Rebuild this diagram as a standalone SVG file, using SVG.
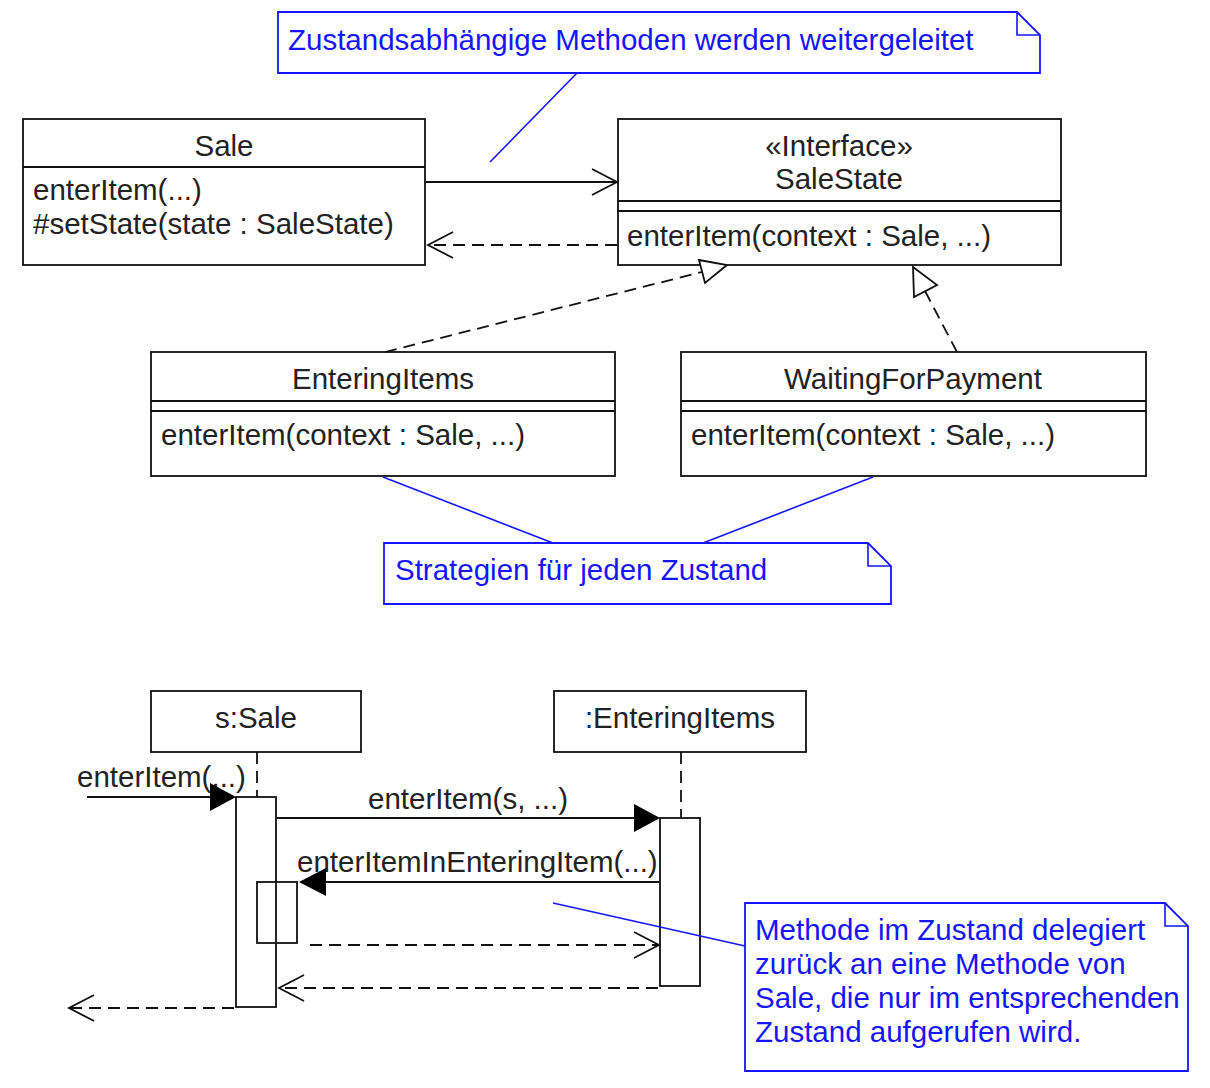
<svg xmlns="http://www.w3.org/2000/svg" width="1210" height="1088" viewBox="0 0 1210 1088">
<style>
text{font-family:"Liberation Sans",Arial,sans-serif;font-size:29.5px;fill:#222}
.c{text-anchor:middle}
.n text{fill:#1515ff}
.box{fill:#fff;stroke:#111;stroke-width:1.8}
.note{fill:#fff;stroke:#1515ff;stroke-width:1.8}
.nl{stroke:#1515ff;stroke-width:1.6;fill:none}
.ln{stroke:#111;stroke-width:1.8;fill:none}
.d{stroke-dasharray:12,7}
.open{fill:none;stroke:#111;stroke-width:1.8}
.fill{fill:#000;stroke:none}
.tri{fill:#fff;stroke:#111;stroke-width:1.8}
</style>
<rect width="1210" height="1088" fill="#fff"/>

<g id="note1" class="n">
  <path class="note" d="M278,12 H1017 L1040,35 V73 H278 Z"/>
  <path class="nl" d="M1017,12 V35 H1040"/>
  <text x="288" y="50">Zustandsabhängige Methoden werden weitergeleitet</text>
</g>

<g id="Sale">
  <rect class="box" x="23" y="119" width="402" height="146"/>
  <line class="ln" x1="23" y1="167" x2="425" y2="167"/>
  <text class="c" x="224" y="156">Sale</text>
  <text x="33" y="200">enterItem(...)</text>
  <text x="33" y="234">#setState(state : SaleState)</text>
</g>

<g id="SaleState">
  <rect class="box" x="618" y="119" width="443" height="146"/>
  <line class="ln" x1="618" y1="201" x2="1061" y2="201"/>
  <line class="ln" x1="618" y1="211" x2="1061" y2="211"/>
  <text class="c" x="839" y="156">«Interface»</text>
  <text class="c" x="839" y="189">SaleState</text>
  <text x="627" y="246">enterItem(context : Sale, ...)</text>
</g>

<g id="EnteringItems">
  <rect class="box" x="151" y="352" width="464" height="124"/>
  <line class="ln" x1="151" y1="401" x2="615" y2="401"/>
  <line class="ln" x1="151" y1="411" x2="615" y2="411"/>
  <text class="c" x="383" y="389">EnteringItems</text>
  <text x="161" y="445">enterItem(context : Sale, ...)</text>
</g>

<g id="WaitingForPayment">
  <rect class="box" x="681" y="352" width="465" height="124"/>
  <line class="ln" x1="681" y1="401" x2="1146" y2="401"/>
  <line class="ln" x1="681" y1="411" x2="1146" y2="411"/>
  <text class="c" x="913" y="389">WaitingForPayment</text>
  <text x="691" y="445">enterItem(context : Sale, ...)</text>
</g>

<g id="note2" class="n">
  <path class="note" d="M384,543 H868 L891,566 V604 H384 Z"/>
  <path class="nl" d="M868,543 V566 H891"/>
  <text x="395" y="580">Strategien für jeden Zustand</text>
</g>

<g id="sSale">
  <rect class="box" x="151" y="691" width="210" height="61"/>
  <text class="c" x="256" y="728">s:Sale</text>
  <rect class="box" x="236" y="797" width="40" height="210"/>
  <rect class="box" x="257" y="882" width="40" height="61" fill-opacity="0"/>
</g>

<g id="enteringItemsObj">
  <rect class="box" x="554" y="691" width="252" height="61"/>
  <text class="c" x="680" y="728">:EnteringItems</text>
  <rect class="box" x="660" y="818" width="40" height="168"/>
</g>

<g id="note3" class="n">
  <path class="note" d="M745,903 H1165 L1188,926 V1071 H745 Z"/>
  <path class="nl" d="M1165,903 V926 H1188"/>
  <text x="755" y="940">Methode im Zustand delegiert</text>
  <text x="755" y="974">zurück an eine Methode von</text>
  <text x="755" y="1008">Sale, die nur im entsprechenden</text>
  <text x="755" y="1042">Zustand aufgerufen wird.</text>
</g>

<g id="labels">
  <text x="77" y="787">enterItem(...)</text>
  <text class="c" x="468" y="809">enterItem(s, ...)</text>
  <text x="297" y="872">enterItemInEnteringItem(...)</text>
</g>

<g id="connectors">
  <line class="nl" x1="577" y1="73" x2="490" y2="162"/>
  <line class="nl" x1="383" y1="477" x2="553" y2="543"/>
  <line class="nl" x1="873" y1="477" x2="703" y2="543"/>
  <line class="nl" x1="553" y1="903" x2="745" y2="946"/>
  <!-- Sale -> SaleState -->
  <line class="ln" x1="425" y1="182" x2="617" y2="182"/>
  <polyline class="open" points="592,169 617,182 592,195"/>
  <!-- SaleState -> Sale dependency -->
  <line class="ln d" x1="617" y1="245" x2="428" y2="245"/>
  <polyline class="open" points="453,232 428,245 453,258"/>
  <!-- realizations -->
  <line class="ln d" x1="385" y1="352" x2="702" y2="272"/>
  <polygon class="tri" points="727,265 705,283 699,260"/>
  <line class="ln d" x1="957" y1="352" x2="925" y2="291"/>
  <polygon class="tri" points="913,267 937,285 914,297"/>
  <!-- sequence lifelines -->
  <line class="ln d" x1="257" y1="752" x2="257" y2="797"/>
  <line class="ln d" x1="681" y1="752" x2="681" y2="818"/>
  <!-- found message -->
  <line class="ln" x1="87" y1="797" x2="215" y2="797"/>
  <polygon class="fill" points="236,797 210,783 210,811"/>
  <!-- enterItem(s, ...) -->
  <line class="ln" x1="276" y1="818" x2="640" y2="818"/>
  <polygon class="fill" points="660,818 634,804 634,832"/>
  <!-- enterItemInEnteringItem -->
  <line class="ln" x1="660" y1="882" x2="320" y2="882"/>
  <polygon class="fill" points="299,882 326,868 326,896"/>
  <!-- returns -->
  <line class="ln d" x1="310" y1="945" x2="658" y2="945"/>
  <polyline class="open" points="634,932 659,945 634,958"/>
  <line class="ln d" x1="658" y1="988" x2="280" y2="988"/>
  <polyline class="open" points="304,975 279,988 304,1001"/>
  <line class="ln d" x1="234" y1="1008" x2="70" y2="1008"/>
  <polyline class="open" points="94,995 69,1008 94,1021"/>
</g>
</svg>
